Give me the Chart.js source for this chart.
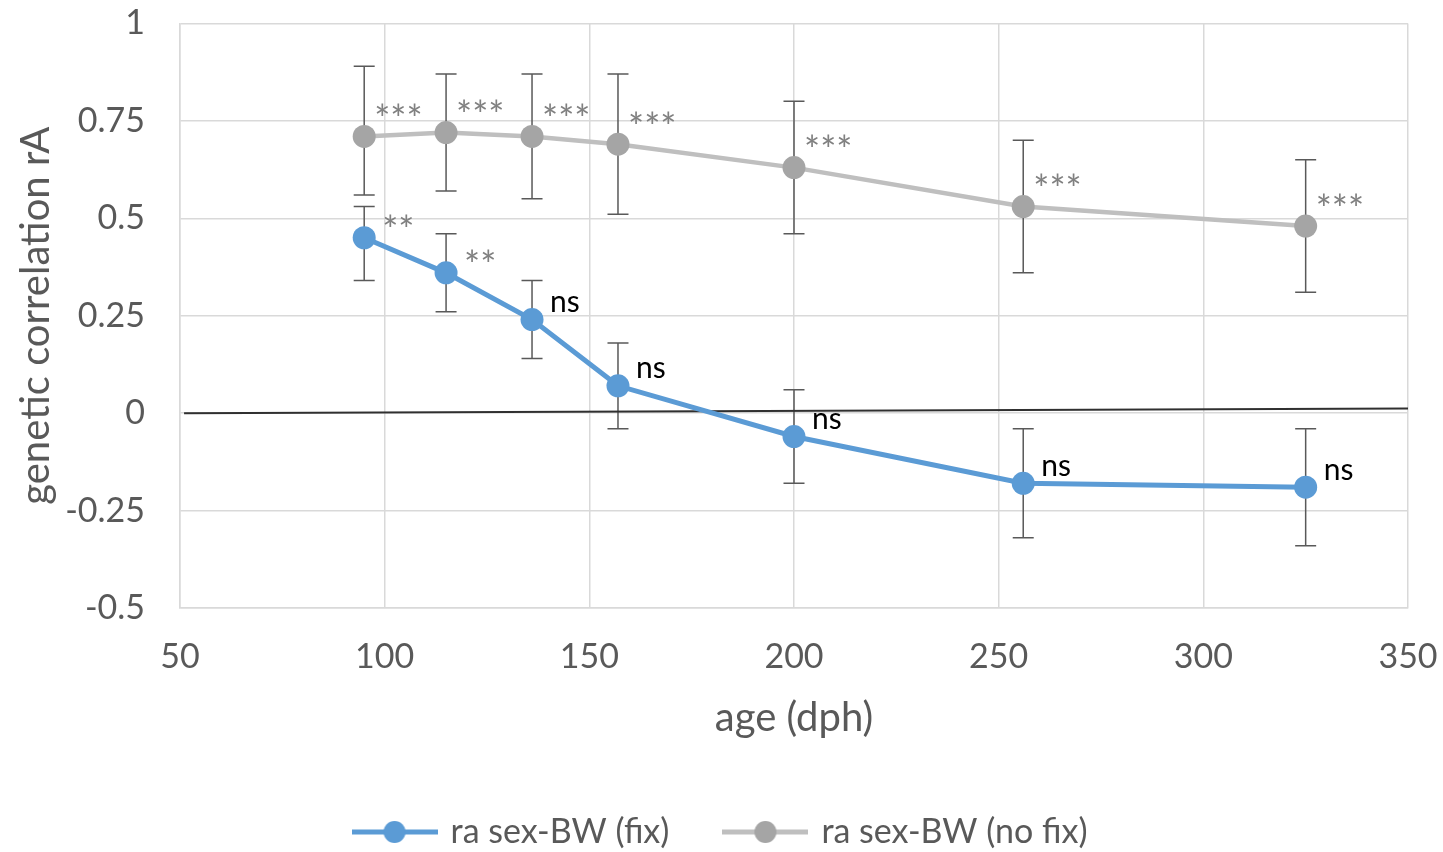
<!DOCTYPE html>
<html lang="en">
<head>
  <meta charset="UTF-8">
  <title>Genetic correlation rA by age</title>
  <script src="https://cdn.jsdelivr.net/npm/chart.js@4.4.0/dist/chart.umd.min.js"></script>
  <style>
    html, body {
      margin: 0;
      padding: 0;
      background: #fff;
    }
    #wrap {
      width: 1443px;
      height: 852px;
    }
  </style>
</head>
<body>
  <div id="wrap"><canvas id="chart"></canvas></div>

  <script>
    // ages (days post hatch)
    const ages = [95, 115, 136, 157, 200, 256, 325];

    // ra sex-BW (fix) with error bar ends
    const raFix = [0.45, 0.36, 0.24, 0.07, -0.06, -0.18, -0.19];
    const raFixLow = [0.34, 0.26, 0.14, -0.04, -0.18, -0.32, -0.34];
    const raFixHigh = [0.53, 0.46, 0.34, 0.18, 0.06, -0.04, -0.04];
    const sigFix = ['**', '**', 'ns', 'ns', 'ns', 'ns', 'ns'];

    // ra sex-BW (no fix) with error bar ends
    const raNoFix = [0.71, 0.72, 0.71, 0.69, 0.63, 0.53, 0.48];
    const raNoFixLow = [0.56, 0.57, 0.55, 0.51, 0.46, 0.36, 0.31];
    const raNoFixHigh = [0.89, 0.87, 0.87, 0.87, 0.80, 0.70, 0.65];
    const sigNoFix = ['***', '***', '***', '***', '***', '***', '***'];

    // the black reference line near zero
    const zeroLineX = [51, 350];
    const zeroLineY = [0, 0.012];

    const xTicks = [50, 100, 150, 200, 250, 300, 350];
    const yTicks = [-0.5, -0.25, 0, 0.25, 0.5, 0.75, 1];

    const FONT = 'Lato, "Open Sans", sans-serif';
    const BLUE = '#5B9BD5';
    const GRAY_LINE = '#BFBFBF';
    const GRAY_DOT = '#A5A5A5';
    const TEXT = '#595959';
    const GRID = '#D9D9D9';

    function pts(xs, ys) {
      return xs.map((x, i) => ({ x: x, y: ys[i] }));
    }

    // line + dot picture for the legend
    function legendMarker(lineColor, dotColor) {
      const c = document.createElement('canvas');
      c.width = 86;
      c.height = 26;
      const g = c.getContext('2d');
      g.strokeStyle = lineColor;
      g.lineWidth = 5;
      g.beginPath();
      g.moveTo(0, 13);
      g.lineTo(86, 13);
      g.stroke();
      g.fillStyle = dotColor;
      g.beginPath();
      g.arc(43, 13, 11, 0, Math.PI * 2);
      g.fill();
      return c;
    }

    const errorBars = {
      id: 'errorBars',
      beforeDatasetsDraw(chart) {
        const ctx = chart.ctx;
        const xs = chart.scales.x, ys = chart.scales.y;
        ctx.save();
        ctx.strokeStyle = '#595959';
        ctx.lineWidth = 1.5;
        chart.data.datasets.forEach(ds => {
          if (!ds.errLow) return;
          ds.data.forEach((p, i) => {
            const px = xs.getPixelForValue(p.x);
            const top = ys.getPixelForValue(ds.errHigh[i]);
            const bot = ys.getPixelForValue(ds.errLow[i]);
            ctx.beginPath();
            ctx.moveTo(px, top); ctx.lineTo(px, bot);
            ctx.moveTo(px - 10.5, top); ctx.lineTo(px + 10.5, top);
            ctx.moveTo(px - 10.5, bot); ctx.lineTo(px + 10.5, bot);
            ctx.stroke();
          });
        });
        ctx.restore();
      }
    };

    const sigLabels = {
      id: 'sigLabels',
      afterDatasetsDraw(chart) {
        const ctx = chart.ctx;
        ctx.save();
        ctx.textAlign = 'left';
        ctx.textBaseline = 'alphabetic';
        chart.data.datasets.forEach((ds, di) => {
          if (!ds.sig) return;
          const meta = chart.getDatasetMeta(di);
          meta.data.forEach((el, i) => {
            const txt = ds.sig[i];
            const star = txt.indexOf('*') >= 0;
            const size = star ? 38 : 30;
            ctx.font = size + 'px ' + FONT;
            ctx.fillStyle = star ? '#808080' : '#000000';
            const lift = star ? 0.57 * size : 0.25 * size;
            ctx.fillText(txt, el.x + ds.sigDx, el.y + ds.sigDy + lift);
          });
        });
        ctx.restore();
      }
    };

    new Chart(document.getElementById('chart'), {
      type: 'line',
      data: {
        datasets: [
          {
            label: 'ra sex-BW (fix)',
            data: pts(ages, raFix),
            errLow: raFixLow,
            errHigh: raFixHigh,
            sig: sigFix,
            sigDx: 18,
            sigDy: -15,
            legendMarker: legendMarker(BLUE, BLUE),
            borderColor: BLUE,
            backgroundColor: BLUE,
            borderWidth: 5,
            pointStyle: 'circle',
            pointRadius: 11.5,
            pointBorderWidth: 0,
            pointBackgroundColor: BLUE,
            order: 1
          },
          {
            label: 'ra sex-BW (no fix)',
            data: pts(ages, raNoFix),
            errLow: raNoFixLow,
            errHigh: raNoFixHigh,
            sig: sigNoFix,
            sigDx: 10,
            sigDy: -25,
            legendMarker: legendMarker(GRAY_LINE, GRAY_DOT),
            borderColor: GRAY_LINE,
            backgroundColor: GRAY_DOT,
            borderWidth: 4.5,
            pointStyle: 'circle',
            pointRadius: 11.5,
            pointBorderWidth: 0,
            pointBackgroundColor: GRAY_DOT,
            order: 1
          },
          {
            label: 'zero',
            data: pts(zeroLineX, zeroLineY),
            borderColor: '#303030',
            borderWidth: 2,
            pointRadius: 0,
            order: 3
          }
        ]
      },
      options: {
        responsive: true,
        maintainAspectRatio: false,
        animation: false,
        layout: { padding: { left: 0, right: 0, top: 22, bottom: -7 } },
        plugins: {
          tooltip: { enabled: false },
          legend: {
            position: 'bottom',
            labels: {
              filter: item => item.text !== 'zero',
              generateLabels(chart) {
                const items = Chart.defaults.plugins.legend.labels.generateLabels(chart);
                items.forEach(it => {
                  const ds = chart.data.datasets[it.datasetIndex];
                  if (ds.legendMarker) it.pointStyle = ds.legendMarker;
                });
                return items;
              },
              usePointStyle: true,
              pointStyleWidth: 78,
              padding: 57,
              color: TEXT,
              font: { family: FONT, size: 34 }
            }
          }
        },
        scales: {
          x: {
            type: 'linear',
            min: 50,
            max: 350,
            afterBuildTicks: axis => { axis.ticks = xTicks.map(v => ({ value: v })); },
            afterFit: axis => { axis.height = 150; },
            grid: { color: GRID, lineWidth: 1.5, drawTicks: true, tickLength: 26, tickColor: 'rgba(0,0,0,0)' },
            border: { color: GRID, width: 1.5 },
            ticks: { color: TEXT, padding: 3, font: { family: FONT, size: 34 }, callback: v => String(v) },
            title: {
              display: true,
              text: 'age (dph)',
              color: TEXT,
              font: { family: FONT, size: 40 },
              padding: { top: 0, bottom: 16 }
            }
          },
          y: {
            min: -0.5,
            max: 1,
            afterBuildTicks: axis => { axis.ticks = yTicks.map(v => ({ value: v })); },
            afterFit: axis => { axis.width = 180; },
            grid: { color: GRID, lineWidth: 1.5, drawTicks: true, tickLength: 32, tickColor: 'rgba(0,0,0,0)' },
            border: { color: GRID, width: 1.5 },
            ticks: { color: TEXT, padding: 3, font: { family: FONT, size: 34 }, callback: v => String(v) },
            title: {
              display: true,
              text: 'genetic correlation rA',
              color: TEXT,
              font: { family: FONT, size: 40 },
              padding: { top: 12, bottom: 0 }
            }
          },
          yRight: {
            position: 'right',
            afterFit: axis => { axis.width = 35; },
            ticks: { display: false },
            grid: { display: false },
            border: { display: false }
          }
        }
      },
      plugins: [errorBars, sigLabels]
    });
  </script>
</body>
</html>
